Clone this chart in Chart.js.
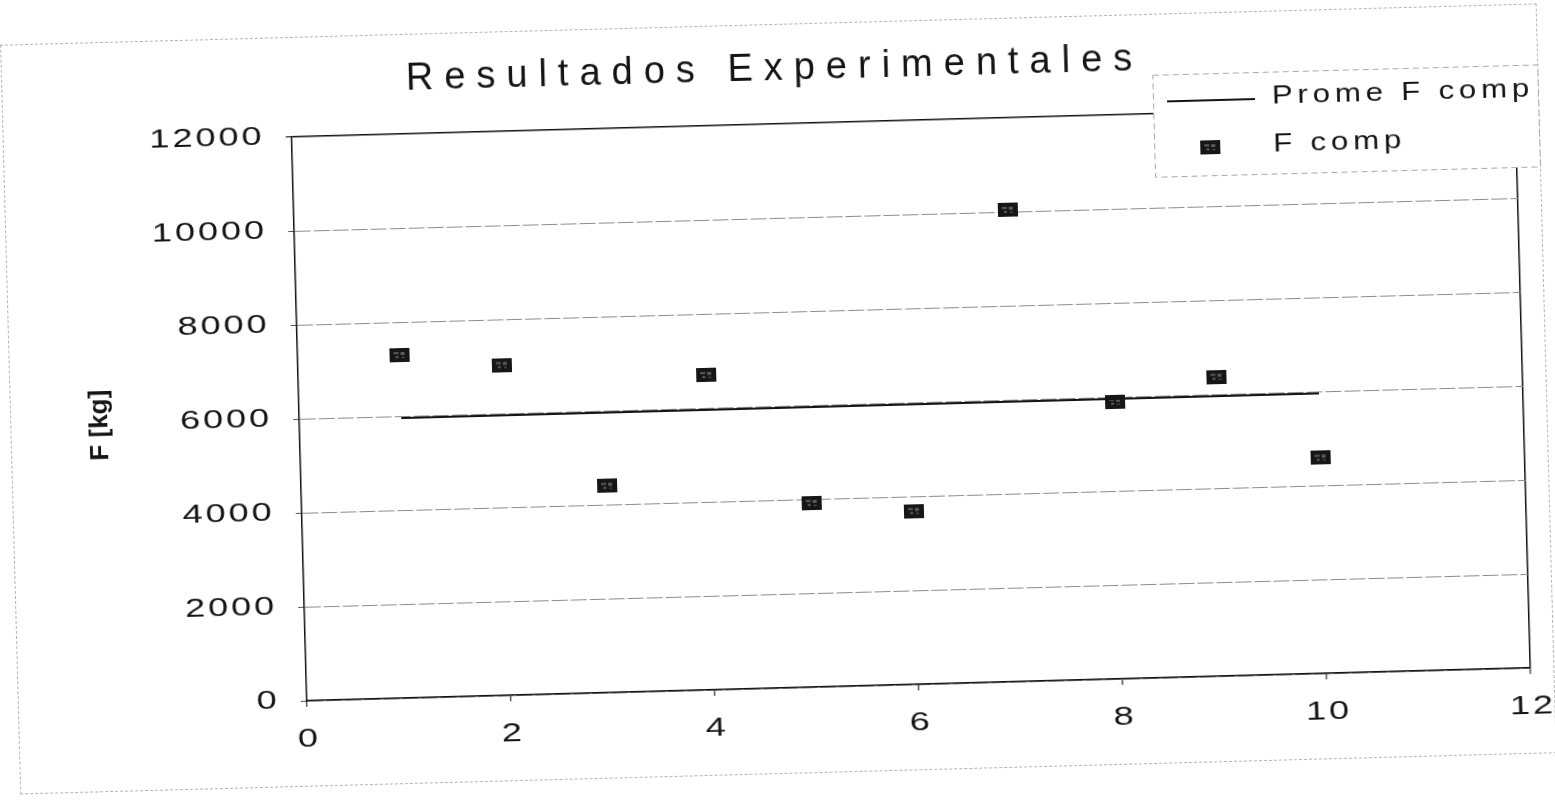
<!DOCTYPE html>
<html lang="es">
<head>
  <meta charset="UTF-8" />
  <title>Resultados Experimentales</title>
  <script src="https://cdn.jsdelivr.net/npm/chart.js"></script>
  <style>
    html, body { margin: 0; padding: 0; background: #fff; overflow: hidden; }
    #hoja {
      position: absolute; left: 0; top: 0; width: 1555px; height: 806px;
      transform: rotate(-1.54deg); transform-origin: 777px 403px;
    }
    #marco {
      position: absolute; left: 10px; top: 24px; width: 1535px; height: 748px;
      border: 1px dashed #b5b5b5;
    }
    #grafico { position: absolute; left: 0; top: 0; }
  </style>
</head>
<body>
  <div id="hoja">
    <div id="marco"></div>
    <canvas id="grafico" width="1555" height="806"></canvas>
  </div>

  <script>
    // datos
    const ensayos = [1, 2, 3, 4, 5, 6, 7, 8, 9, 10];
    const fComp = [7300, 7030, 4400, 6700, 3920, 3690, 10040, 5900, 6370, 4590];
    const promeFComp = [5960, 5960, 5960, 5960, 5960, 5960, 5960, 5960, 5960, 5960];
    const ticksX = [0, 2, 4, 6, 8, 10, 12];
    const ticksY = [0, 2000, 4000, 6000, 8000, 10000, 12000];

    const tinta = '#141414';
    const fuente = '"Liberation Sans", Arial, sans-serif';

    // marcador cuadrado algo ancho, como el del escaneo
    function crearMarcador() {
      const c = document.createElement('canvas');
      c.width = 20; c.height = 14;
      const g = c.getContext('2d');
      g.fillStyle = '#161616';
      g.fillRect(0, 0, 20, 14);
      g.fillStyle = '#5c5c5c';
      g.fillRect(4, 4, 5, 2);
      g.fillRect(11, 4, 4, 3);
      g.fillRect(6, 8, 3, 2);
      g.fillRect(12, 9, 3, 1);
      return c;
    }
    const marcador = crearMarcador();

    // texto ensanchado (la fuente del original es muy ancha)
    function texto(ctx, str, x, y, align, sx, esp) {
      ctx.save();
      ctx.letterSpacing = esp + 'px';
      const w = (ctx.measureText(str).width - esp) * sx;
      let x0 = x;
      if (align === 'center') x0 = x - w / 2;
      if (align === 'right') x0 = x - w;
      ctx.translate(x0, y);
      ctx.scale(sx, 1);
      ctx.textAlign = 'left';
      ctx.fillText(str, 0, 0);
      ctx.restore();
    }

    const textos = {
      id: 'textos',
      afterDraw(chart) {
        const ctx = chart.ctx;
        const sx = chart.scales.x, sy = chart.scales.y;
        ctx.save();
        ctx.fillStyle = tinta;
        ctx.textBaseline = 'middle';

        // titulo
        ctx.font = '38px ' + fuente;
        texto(ctx, 'Resultados Experimentales', 778, 70, 'center', 1, 11);

        // etiquetas de los ejes
        ctx.font = '25px ' + fuente;
        sy.ticks.forEach(t => {
          texto(ctx, String(t.value), sx.left - 30, sy.getPixelForValue(t.value), 'right', 1.45, 2);
        });
        sx.ticks.forEach(t => {
          texto(ctx, String(t.value), sx.getPixelForValue(t.value), sy.bottom + 39, 'center', 1.45, 2);
        });

        // titulo eje y
        ctx.save();
        ctx.translate(100, 407);
        ctx.rotate(-Math.PI / 2);
        ctx.font = 'bold 26px ' + fuente;
        texto(ctx, 'F [kg]', 0, 0, 'center', 1, 0);
        ctx.restore();

        // leyenda
        ctx.fillStyle = '#fff';
        ctx.fillRect(1161, 85, 385, 102);
        ctx.setLineDash([6, 4]);
        ctx.strokeStyle = '#a8a8a8';
        ctx.lineWidth = 1;
        ctx.strokeRect(1161.5, 85.5, 385, 102);
        ctx.setLineDash([]);
        ctx.strokeStyle = tinta;
        ctx.lineWidth = 2;
        ctx.beginPath();
        ctx.moveTo(1175, 112);
        ctx.lineTo(1263, 112);
        ctx.stroke();
        ctx.drawImage(marcador, 1207, 152);
        ctx.fillStyle = tinta;
        ctx.font = '26px ' + fuente;
        texto(ctx, chart.data.datasets[0].label, 1280, 110, 'left', 1.2, 4);
        texto(ctx, chart.data.datasets[1].label, 1280, 158, 'left', 1.2, 4);
        ctx.restore();
      }
    };

    new Chart(document.getElementById('grafico'), {
      type: 'scatter',
      data: {
        datasets: [
          {
            label: 'Prome F comp',
            data: ensayos.map((x, i) => ({ x, y: promeFComp[i] })),
            showLine: true,
            borderColor: tinta,
            borderWidth: 2,
            pointRadius: 0
          },
          {
            label: 'F comp',
            data: ensayos.map((x, i) => ({ x, y: fComp[i] })),
            pointStyle: marcador,
            pointRadius: 10,
            showLine: false
          }
        ]
      },
      options: {
        responsive: false,
        animation: false,
        layout: { padding: { left: 0, top: 124, right: 32, bottom: 0 } },
        plugins: {
          legend: { display: false },
          title: { display: false },
          tooltip: { enabled: false }
        },
        scales: {
          x: {
            type: 'linear',
            min: 0, max: 12,
            afterBuildTicks(scale) { scale.ticks = ticksX.map(v => ({ value: v })); },
            afterFit(scale) { scale.height = 118; },
            ticks: { display: false },
            grid: {
              color: ctx => ctx.tick && ctx.tick.value === 12 ? '#111' : 'rgba(0,0,0,0)',
              lineWidth: 1.5,
              tickColor: '#555',
              tickLength: 6
            },
            border: { color: '#111', width: 1.5 }
          },
          y: {
            min: 0, max: 12000,
            afterBuildTicks(scale) { scale.ticks = ticksY.map(v => ({ value: v })); },
            afterFit(scale) { scale.width = 299; },
            ticks: { display: false },
            grid: {
              color: ctx => ctx.tick && ctx.tick.value === 12000 ? '#111' : '#8c8c8c',
              lineWidth: ctx => ctx.tick && ctx.tick.value === 12000 ? 1.5 : 1,
              tickColor: '#555',
              tickLength: 6
            },
            border: {
              color: '#111', width: 1.5,
              dash: ctx => ctx.tick && ctx.tick.value === 12000 ? [] : [16, 3]
            }
          }
        }
      },
      plugins: [textos]
    });
  </script>
</body>
</html>
